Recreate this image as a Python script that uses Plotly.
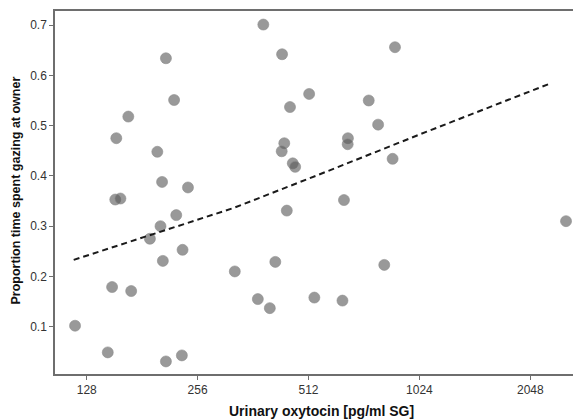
import plotly.graph_objects as go
import math

# Data
oxytocin = [386, 434, 210, 221, 166, 154, 456, 199, 440, 433, 464, 471, 205, 241, 153, 158,
            879, 514, 746, 791, 655, 654, 866, 639, 447, 224, 203, 190, 233, 206, 323, 416,
            150, 169, 373, 402, 119, 146, 210, 232, 2560, 822, 531, 633]
gazing = [0.701, 0.642, 0.634, 0.551, 0.518, 0.475, 0.537, 0.448, 0.465, 0.449, 0.425, 0.418,
          0.388, 0.377, 0.353, 0.355, 0.656, 0.563, 0.550, 0.502, 0.475, 0.463, 0.434, 0.352,
          0.331, 0.322, 0.300, 0.275, 0.253, 0.231, 0.210, 0.229, 0.179, 0.171, 0.155, 0.137,
          0.102, 0.049, 0.031, 0.043, 0.310, 0.223, 0.158, 0.152]

fit_x = [118, 179, 320, 544, 1072, 2341]
fit_y = [0.233, 0.276, 0.336, 0.402, 0.488, 0.585]

tick_vals = [128, 256, 512, 1024, 2048]
tick_text = ["128", "256", "512", "1024", "2048"]

x_title = "Urinary oxytocin [pg/ml SG]"
y_title = "Proportion time spent gazing at owner"

FONT = "Liberation Sans, Arial, sans-serif"
AXIS_COLOR = "#6e6e6e"

# page body has an 8px margin; compensate so the plot lands where the reference has it
OFF = 8
W, H = 581 - OFF, 420 - OFF
ML, MR, MT, MB = 55 - OFF, 0, 11 - OFF, 46

fig = go.Figure()
fig.add_trace(go.Scatter(
    x=oxytocin, y=gazing, mode="markers",
    marker=dict(size=11, color="rgba(90,90,90,0.62)",
                line=dict(width=1, color="rgba(140,140,140,0.6)")),
    showlegend=False, hoverinfo="x+y", cliponaxis=False))
fig.add_trace(go.Scatter(
    x=fit_x, y=fit_y, mode="lines",
    line=dict(color="#1a1a1a", width=2, dash="6px,4px"),
    showlegend=False, hoverinfo="skip"))

pw = W - ML - MR
ph = H - MT - MB

fig.update_layout(
    width=W, height=H,
    margin=dict(l=ML, r=MR, t=MT, b=MB, autoexpand=False),
    paper_bgcolor="white", plot_bgcolor="white",
    font=dict(family=FONT, color="#333333", size=12),
    xaxis=dict(
        type="log", automargin=False,
        range=[6.714 * math.log10(2), 11.457 * math.log10(2)],
        tickvals=tick_vals, ticktext=tick_text,
        showgrid=False, zeroline=False,
        showline=True, linecolor=AXIS_COLOR, linewidth=1.5, mirror=True,
        ticks="outside", ticklen=4, tickcolor=AXIS_COLOR, tickwidth=1,
        tickfont=dict(family=FONT, size=12, color="#333333"),
    ),
    yaxis=dict(
        automargin=False,
        range=[0.006, 0.728],
        tickvals=[0.1, 0.2, 0.3, 0.4, 0.5, 0.6, 0.7],
        ticktext=["0.1", "0.2", "0.3", "0.4", "0.5", "0.6", "0.7"],
        showgrid=False, zeroline=False,
        showline=True, linecolor=AXIS_COLOR, linewidth=1.5, mirror=False,
        ticks="outside", ticklen=4, tickcolor=AXIS_COLOR, tickwidth=1,
        tickfont=dict(family=FONT, size=12, color="#333333"),
    ),
    annotations=[
        dict(text="<b>" + x_title + "</b>", xref="paper", yref="paper",
             x=(321 - OFF - ML) / pw, y=-(411 - OFF - (MT + ph)) / ph,
             xanchor="center", yanchor="middle", showarrow=False,
             font=dict(family=FONT, size=14, color="#111111")),
        dict(text="<b>" + y_title + "</b>", xref="paper", yref="paper",
             x=-(ML - (15.5 - OFF)) / pw, y=1 - (191 - OFF - MT) / ph, textangle=-90,
             xanchor="center", yanchor="middle", showarrow=False,
             font=dict(family=FONT, size=12.5, color="#111111")),
    ],
)

fig.write_html("out.html")
